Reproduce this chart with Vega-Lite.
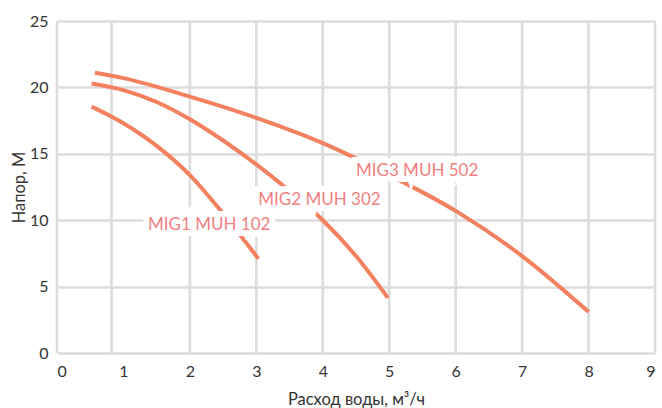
{
  "$schema": "https://vega.github.io/schema/vega-lite/v6.json",
  "width": 598,
  "height": 332,
  "autosize": {"type": "none"},
  "padding": {"left": 57, "top": 21, "right": 7, "bottom": 55},
  "background": "white",
  "config": {
    "view": {"stroke": null},
    "font": "Lato",
    "axis": {"labelFont": "Lato", "titleFont": "Lato", "labelColor": "#333333", "titleColor": "#333333", "labelFontSize": 16, "titleFontWeight": "normal"}
  },
  "datasets": {
    "curves": [
      {"pump": "MIG1 MUH 102", "q": 0.52, "h": 18.55},
      {"pump": "MIG1 MUH 102", "q": 1.0, "h": 17.3},
      {"pump": "MIG1 MUH 102", "q": 1.5, "h": 15.6},
      {"pump": "MIG1 MUH 102", "q": 2.0, "h": 13.4},
      {"pump": "MIG1 MUH 102", "q": 2.5, "h": 10.5},
      {"pump": "MIG1 MUH 102", "q": 3.03, "h": 7.1},
      {"pump": "MIG2 MUH 302", "q": 0.52, "h": 20.3},
      {"pump": "MIG2 MUH 302", "q": 1.0, "h": 19.8},
      {"pump": "MIG2 MUH 302", "q": 1.5, "h": 18.9},
      {"pump": "MIG2 MUH 302", "q": 2.0, "h": 17.6},
      {"pump": "MIG2 MUH 302", "q": 2.5, "h": 16.0},
      {"pump": "MIG2 MUH 302", "q": 3.0, "h": 14.2},
      {"pump": "MIG2 MUH 302", "q": 3.5, "h": 12.2},
      {"pump": "MIG2 MUH 302", "q": 4.0, "h": 10.0},
      {"pump": "MIG2 MUH 302", "q": 4.5, "h": 7.3},
      {"pump": "MIG2 MUH 302", "q": 4.98, "h": 4.15},
      {"pump": "MIG3 MUH 502", "q": 0.57, "h": 21.1},
      {"pump": "MIG3 MUH 502", "q": 1.0, "h": 20.7},
      {"pump": "MIG3 MUH 502", "q": 2.0, "h": 19.3},
      {"pump": "MIG3 MUH 502", "q": 3.0, "h": 17.7},
      {"pump": "MIG3 MUH 502", "q": 4.0, "h": 15.8},
      {"pump": "MIG3 MUH 502", "q": 5.0, "h": 13.4},
      {"pump": "MIG3 MUH 502", "q": 6.0, "h": 10.7},
      {"pump": "MIG3 MUH 502", "q": 7.0, "h": 7.3},
      {"pump": "MIG3 MUH 502", "q": 8.0, "h": 3.1}
    ],
    "labels": [
      {"pump": "MIG1 MUH 102", "q": 2.29, "h": 9.66},
      {"pump": "MIG2 MUH 302", "q": 3.95, "h": 11.5},
      {"pump": "MIG3 MUH 502", "q": 5.42, "h": 13.7}
    ],
    "vgrid": [
      {"q": 0}, {"q": 0.82}, {"q": 2}, {"q": 3}, {"q": 4}, {"q": 5}, {"q": 6}, {"q": 7}, {"q": 8}, {"q": 9}
    ]
  },
  "layer": [
    {
      "data": {"name": "vgrid"},
      "mark": {"type": "rule", "color": "#dcdcdc", "strokeWidth": 2.6},
      "encoding": {
        "x": {"field": "q", "type": "quantitative", "scale": {"domain": [0, 9]}}
      }
    },
    {
      "data": {"name": "curves"},
      "mark": {"type": "line", "color": "#F3805F", "strokeWidth": 4, "interpolate": "monotone", "strokeCap": "butt"},
      "encoding": {
        "x": {
          "field": "q", "type": "quantitative",
          "scale": {"domain": [0, 9], "nice": false},
          "axis": {"values": [0, 1, 2, 3, 4, 5, 6, 7, 8, 9], "format": "d", "grid": false, "domain": false, "ticks": false, "labelPadding": 10, "title": "Расход воды, м³/ч", "titleFontSize": 16.5, "titlePadding": 12}
        },
        "y": {
          "field": "h", "type": "quantitative",
          "scale": {"domain": [0, 25], "nice": false},
          "axis": {"values": [0, 5, 10, 15, 20, 25], "format": "d", "grid": true, "gridColor": "#dcdcdc", "gridWidth": 2.6, "domain": false, "ticks": false, "labelPadding": 9, "title": "Напор, М", "titleFontSize": 16.5, "titlePadding": 2}
        },
        "detail": {"field": "pump"}
      }
    },
    {
      "data": {"name": "labels"},
      "mark": {"type": "text", "fontSize": 17, "font": "Lato", "color": "white", "stroke": "white", "strokeWidth": 12, "strokeJoin": "miter"},
      "encoding": {
        "x": {"field": "q", "type": "quantitative"},
        "y": {"field": "h", "type": "quantitative"},
        "text": {"field": "pump"}
      }
    },
    {
      "data": {"name": "labels"},
      "mark": {"type": "text", "fontSize": 17, "font": "Lato", "color": "#F07F7F"},
      "encoding": {
        "x": {"field": "q", "type": "quantitative"},
        "y": {"field": "h", "type": "quantitative"},
        "text": {"field": "pump"}
      }
    }
  ]
}
